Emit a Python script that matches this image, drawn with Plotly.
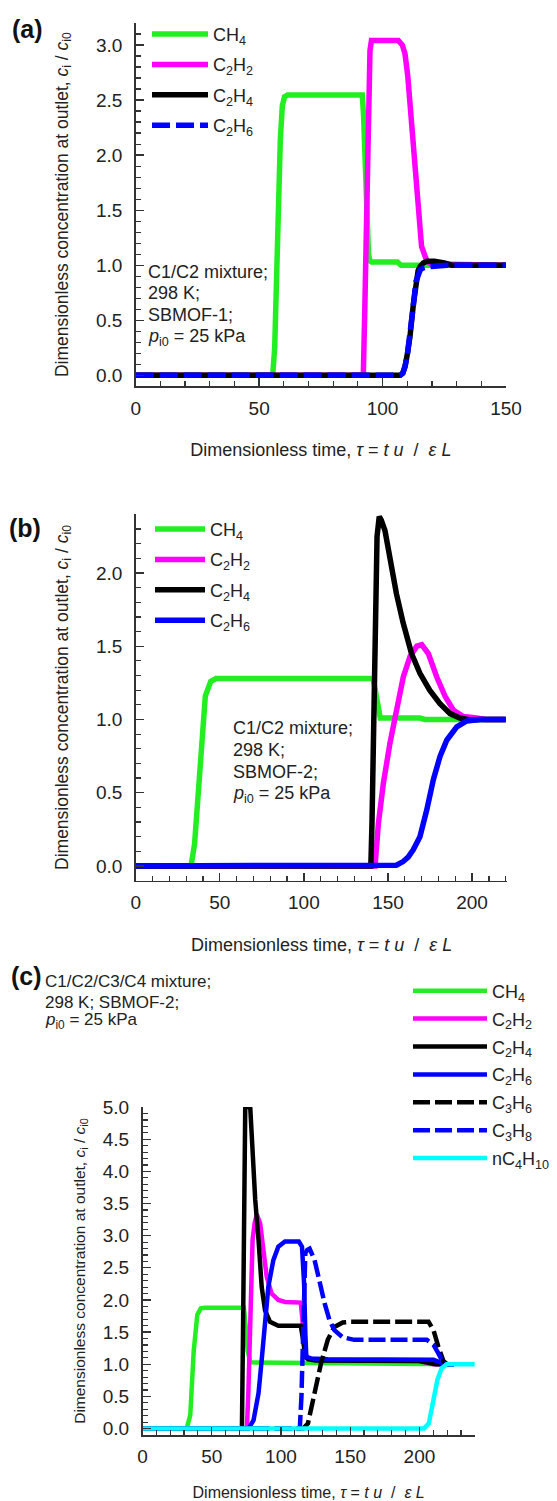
import plotly.graph_objects as go

# ---------------- data: panel (a) SBMOF-1, C1/C2 ----------------
a_ch4_t = [0, 55.5, 56.3, 57.0, 57.8, 58.6, 59.4, 60.3, 61.5, 91.8, 92.3, 93.3, 94.3, 94.9, 95.5, 106, 107.5, 150]
a_ch4_c = [0, 0, 0.25, 0.9, 1.6, 2.15, 2.45, 2.53, 2.546, 2.546, 2.36, 1.7, 1.1, 1.04, 1.03, 1.03, 1.0, 1.0]
a_c2h2_t = [0, 92.2, 92.8, 93.5, 94.2, 94.9, 95.5, 106.4, 108, 109.1, 110.2, 111.1, 112.1, 113.1, 114.5, 115.8, 117.9, 119.5, 150]
a_c2h2_c = [0, 0, 0.6, 1.5, 2.4, 2.95, 3.04, 3.04, 3.0, 2.92, 2.72, 2.47, 2.17, 1.86, 1.41, 1.17, 1.04, 1.01, 1.0]
a_c2h4_t = [0, 107.1, 108.2, 109.1, 110.1, 111.1, 112.5, 113.5, 114.4, 115.3, 116.5, 117.9, 121, 125, 128, 150]
a_c2h4_c = [0, 0, 0.02, 0.08, 0.2, 0.35, 0.65, 0.87, 0.95, 0.99, 1.02, 1.035, 1.035, 1.02, 1.0, 1.0]
a_c2h6_t = [0, 107.1, 108.2, 109.1, 110.1, 111.1, 112.5, 113.5, 114.4, 115.3, 116.5, 118, 121, 126, 150]
a_c2h6_c = [0, 0, 0.02, 0.08, 0.2, 0.35, 0.64, 0.85, 0.93, 0.96, 0.975, 0.985, 0.99, 1.0, 1.0]

# ---------------- data: panel (b) SBMOF-2, C1/C2 ----------------
b_ch4_t = [0, 32.9, 35.0, 37.2, 39.3, 41.4, 44.6, 47.8, 141.2, 142.5, 144.0, 145.4, 169, 172, 220]
b_ch4_c = [0, 0, 0.15, 0.54, 0.88, 1.16, 1.26, 1.28, 1.28, 1.2, 1.08, 1.01, 1.01, 1.0, 1.0]
b_c2h2_t = [0, 142.3, 144.3, 147.2, 151.2, 155.2, 159.1, 163.1, 167.1, 170.1, 174.0, 179.0, 183.9, 188.8, 194.8, 202.7, 208, 220]
b_c2h2_c = [0, 0, 0.29, 0.56, 0.84, 1.09, 1.29, 1.43, 1.50, 1.51, 1.45, 1.29, 1.16, 1.065, 1.02, 1.01, 1.0, 1.0]
b_c2h4_t = [0, 139.8, 140.5, 141.5, 142.5, 143.5, 144.8, 146.0, 148.2, 151.2, 155.0, 159.0, 164.0, 169.0, 174.8, 180.8, 186.9, 192.8, 198.8, 205, 220]
b_c2h4_c = [0, 0, 0.3, 1.0, 1.8, 2.25, 2.385, 2.36, 2.29, 2.09, 1.86, 1.66, 1.45, 1.315, 1.20, 1.11, 1.04, 1.01, 0.997, 1.0, 1.0]
b_c2h6_t = [0, 151, 155, 159, 162, 165, 169, 173, 177, 181, 185, 190.9, 196.8, 204.7, 220]
b_c2h6_c = [0, 0, 0.005, 0.03, 0.06, 0.11, 0.2, 0.38, 0.59, 0.75, 0.86, 0.95, 0.99, 1.0, 1.0]

# ---------------- data: panel (c) SBMOF-2, C1/C2/C3/C4 ----------------
c_ch4_t = [0, 31.9, 34.5, 37.0, 39.6, 42.1, 45, 73.2, 74.5, 76, 78, 150, 200, 225]
c_ch4_c = [0, 0, 0.21, 1.21, 1.77, 1.87, 1.88, 1.88, 1.6, 1.2, 1.03, 1.02, 1.0, 1.0]
c_c2h2_t = [0, 75.4, 76.5, 77.8, 79.5, 81.0, 82.6, 85.0, 87.3, 89.7, 93.3, 98.1, 103, 114.3, 115.5, 116.8, 118.5, 125, 200, 210, 225]
c_c2h2_c = [0, 0, 0.6, 1.48, 2.93, 3.2, 3.33, 3.19, 2.73, 2.36, 2.10, 2.0, 1.97, 1.96, 1.7, 1.3, 1.1, 1.07, 1.05, 1.0, 1.0]
c_c2h4_t = [0, 71.8, 72.6, 73.4, 74.2, 77.8, 79.0, 81.4, 83.8, 86.1, 88.5, 92.1, 98.1, 114.3, 116.0, 117.6, 119.5, 125, 200, 206, 212, 225]
c_c2h4_c = [0, 0, 1.5, 3.5, 5.0, 5.0, 4.44, 3.56, 2.93, 2.2, 1.84, 1.66, 1.6, 1.6, 1.38, 1.12, 1.08, 1.06, 1.05, 1.02, 1.0, 1.0]
c_c2h6_t = [0, 76.6, 80.2, 83.8, 86.1, 88.5, 90.9, 94.5, 98.1, 102.9, 112.9, 115.2, 116.7, 117.6, 118.3, 121.9, 133.8, 210.2, 214.9, 218.5, 225]
c_c2h6_c = [0, 0, 0.13, 0.55, 1.07, 1.69, 2.21, 2.62, 2.83, 2.91, 2.91, 2.83, 2.26, 1.48, 1.12, 1.09, 1.08, 1.07, 1.02, 1.0, 1.0]
c_c3h6_t = [0, 116.0, 119.5, 124.3, 129.0, 133.8, 138.6, 144.6, 150, 206.6, 210.2, 213.7, 217.3, 220, 225]
c_c3h6_c = [0, 0, 0.08, 0.55, 1.02, 1.38, 1.58, 1.65, 1.66, 1.66, 1.53, 1.27, 1.05, 1.0, 1.0]
c_c3h8_t = [0, 113.6, 114.8, 116.0, 117.6, 119.0, 120.7, 124.3, 127.9, 131.5, 135.0, 138.6, 144.6, 152.9, 205.4, 210.2, 213.7, 217.3, 220, 225]
c_c3h8_c = [0, 0, 0.5, 1.48, 2.73, 2.78, 2.80, 2.62, 2.26, 1.95, 1.69, 1.53, 1.42, 1.38, 1.38, 1.30, 1.17, 1.02, 1.0, 1.0]
c_c4h10_t = [0, 203.2, 206.8, 210.2, 213.0, 216.1, 219.7, 240]
c_c4h10_c = [0, 0, 0.08, 0.44, 0.76, 0.94, 1.0, 1.0]

names = {
    "ch4": "CH<sub>4</sub>", "c2h2": "C<sub>2</sub>H<sub>2</sub>", "c2h4": "C<sub>2</sub>H<sub>4</sub>",
    "c2h6": "C<sub>2</sub>H<sub>6</sub>", "c3h6": "C<sub>3</sub>H<sub>6</sub>", "c3h8": "C<sub>3</sub>H<sub>8</sub>",
    "c4h10": "nC<sub>4</sub>H<sub>10</sub>",
}
GREEN, MAGENTA, BLACK, BLUE, CYAN = "#22ee22", "#ff00ff", "#000000", "#0000ff", "#00ffff"
FONT = "Liberation Sans, Arial, sans-serif"
TXT = "#222222"
W, H = 557, 1501

fig = go.Figure()

def add(t, c, key, color, ax, leg, width, dash="solid"):
    sfx = "" if ax == 1 else str(ax)
    fig.add_trace(go.Scatter(
        x=t, y=c, mode="lines", name=names[key],
        line=dict(color=color, width=width, dash=dash),
        xaxis="x" + sfx, yaxis="y" + sfx, legend=leg,
        legendgroup=leg + key, hoverinfo="skip"))

wa = 5.5
add(a_ch4_t, a_ch4_c, "ch4", GREEN, 1, "legend", wa)
add(a_c2h2_t, a_c2h2_c, "c2h2", MAGENTA, 1, "legend", wa)
add(a_c2h4_t, a_c2h4_c, "c2h4", BLACK, 1, "legend", wa)
add(a_c2h6_t, a_c2h6_c, "c2h6", BLUE, 1, "legend", wa, "18px,6px")

add(b_ch4_t, b_ch4_c, "ch4", GREEN, 2, "legend2", wa)
add(b_c2h2_t, b_c2h2_c, "c2h2", MAGENTA, 2, "legend2", wa)
add(b_c2h4_t, b_c2h4_c, "c2h4", BLACK, 2, "legend2", wa)
add(b_c2h6_t, b_c2h6_c, "c2h6", BLUE, 2, "legend2", wa)

wc = 4.5
add(c_ch4_t, c_ch4_c, "ch4", GREEN, 3, "legend3", wc)
add(c_c2h2_t, c_c2h2_c, "c2h2", MAGENTA, 3, "legend3", wc)
add(c_c2h4_t, c_c2h4_c, "c2h4", BLACK, 3, "legend3", wc)
add(c_c2h6_t, c_c2h6_c, "c2h6", BLUE, 3, "legend3", wc)
add(c_c3h6_t, c_c3h6_c, "c3h6", BLACK, 3, "legend3", wc, "17px,5px")
add(c_c3h8_t, c_c3h8_c, "c3h8", BLUE, 3, "legend3", wc, "17px,5px")
add(c_c4h10_t, c_c4h10_c, "c4h10", CYAN, 3, "legend3", wc)

def px_x(p):
    return p / W

def px_y(p):
    return 1 - p / H

YT = "Dimensionless concentration at outlet, <i>c</i><sub>i</sub> / <i>c</i><sub>i0</sub>"
XT = "Dimensionless time, <i>τ</i> = <i>t u</i>  /  <i>ε L</i>"

def axis(domain, rng, dtick, mdtick, anchor, title, tsize, standoff, fmt, lso):
    return dict(
        domain=domain, range=rng, anchor=anchor, showline=True, linecolor="#333333", linewidth=1.5,
        ticks="inside", ticklen=8, tickwidth=1.3, tickcolor="#333333", dtick=dtick, tick0=0,
        minor=dict(ticks="inside", ticklen=5, dtick=mdtick, tick0=0, tickcolor="#333333", tickwidth=1.2, showgrid=False),
        showgrid=False, zeroline=False, tickformat=fmt, ticklabelstandoff=lso,
        tickfont=dict(family=FONT, size=19, color=TXT),
        title=dict(text=title, font=dict(family=FONT, size=tsize, color=TXT), standoff=standoff),
        automargin=False, fixedrange=True)

# panel geometry (pixels from the top-left corner of the page)
ax_dom = [px_x(135.7), px_x(506.0)]
ay_dom = [px_y(386.3), px_y(23.0)]
bx_dom = [px_x(135.7), px_x(507.4)]
by_dom = [px_y(880.6), px_y(514.4)]
cx_dom = [px_x(142.5), px_x(474.8)]
cy_dom = [px_y(1435.0), px_y(1107.1)]

fig.update_layout(
    width=W, height=H, margin=dict(l=0, r=0, t=0, b=0),
    paper_bgcolor="white", plot_bgcolor="white",
    font=dict(family=FONT, size=18, color=TXT),
    xaxis=axis(ax_dom, [0, 150], 50, 10, "y", XT, 18, 26, "d", 4),
    yaxis=axis(ay_dom, [-0.1, 3.2], 0.5, 0.1, "x", YT, 17.5, 23, ".1f", 8),
    xaxis2=axis(bx_dom, [0, 221], 50, 10, "y2", XT, 18, 26, "d", 4),
    yaxis2=axis(by_dom, [-0.1, 2.4], 0.5, 0.1, "x2", YT, 17.5, 23, ".1f", 8),
    xaxis3=axis(cx_dom, [0, 240], 50, 10, "y3", XT, 16, 21, "d", 4),
    yaxis3=axis(cy_dom, [-0.1, 5.0], 0.5, 0.1, "x3", YT, 15.5, 13, ".1f", 8),
    legend=dict(x=px_x(147), y=px_y(15.8), xanchor="left", yanchor="top", itemwidth=56,
                tracegroupgap=4, bgcolor="rgba(0,0,0,0)", font=dict(family=FONT, size=18, color=TXT)),
    legend2=dict(x=px_x(150), y=px_y(510.8), xanchor="left", yanchor="top", itemwidth=50,
                 tracegroupgap=4, bgcolor="rgba(0,0,0,0)", font=dict(family=FONT, size=18, color=TXT)),
    legend3=dict(x=px_x(408), y=px_y(972.5), xanchor="left", yanchor="top", itemwidth=74,
                 tracegroupgap=1.5, bgcolor="rgba(0,0,0,0)", font=dict(family=FONT, size=18, color=TXT)),
    showlegend=True,
)

def note(text, x, y, size=18, bold=False):
    fig.add_annotation(text=("<b>%s</b>" % text) if bold else text, x=px_x(x), y=px_y(y),
                       xref="paper", yref="paper", xanchor="left" if not bold else "center",
                       yanchor="middle", showarrow=False,
                       font=dict(family=FONT, size=size, color=TXT if not bold else "#111111"))

note("(a)", 27.5, 29, 25, True)
note("(b)", 25, 528, 25, True)
note("(c)", 27, 975.7, 25, True)

for txt, y in zip(["C1/C2 mixture;", "298 K;", "SBMOF-1;", "<i>p</i><sub>i0</sub> = 25 kPa"], [271.7, 293, 315, 337]):
    note(txt, 146, y)
for txt, y in zip(["C1/C2 mixture;", "298 K;", "SBMOF-2;", "<i>p</i><sub>i0</sub> = 25 kPa"], [728, 750, 771.7, 794]):
    note(txt, 231, y)
for txt, y in zip(["C1/C2/C3/C4 mixture;", "298 K; SBMOF-2;", "<i>p</i><sub>i0</sub> = 25 kPa"], [981, 1002.5, 1021.4]):
    note(txt, 42.7, y, 17)

fig.write_html("out.html", config={"displayModeBar": False, "staticPlot": True},
               post_script="document.body.style.margin='0px';")
